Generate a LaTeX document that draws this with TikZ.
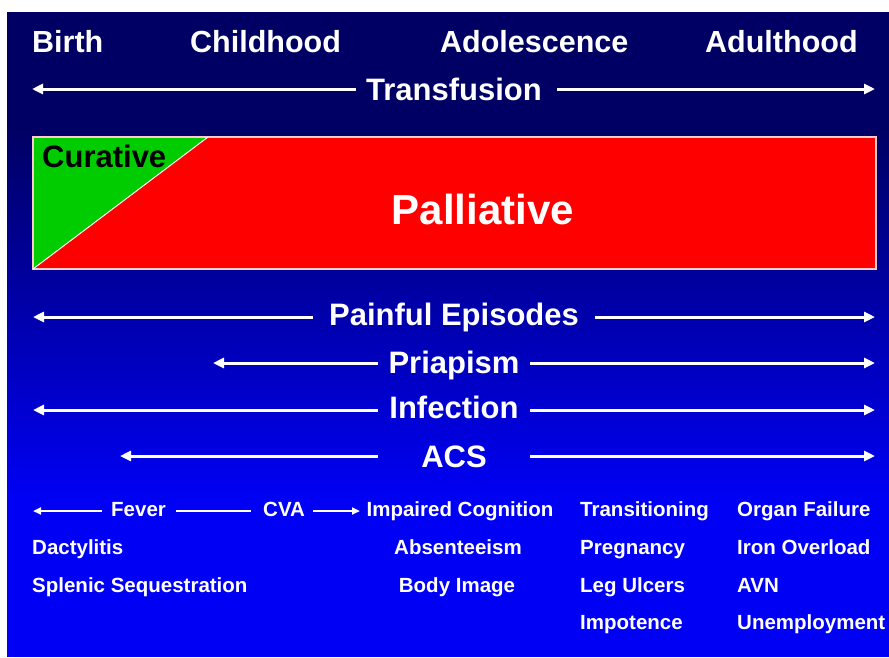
\documentclass[tikz,border=0pt]{standalone}
\usepackage{fontspec}
\setmainfont{Liberation Sans}
\usetikzlibrary{arrows.meta}
\definecolor{navybg}{RGB}{0,0,100}
\definecolor{bluebg}{RGB}{0,0,245}
\definecolor{curgreen}{RGB}{0,204,0}
\definecolor{palred}{RGB}{255,0,0}
\begin{document}
\begin{tikzpicture}[x=1pt,y=-1pt,
  lbl/.style={text=white,font=\bfseries\fontsize{31}{36}\selectfont,inner sep=0pt},
  hdr/.style={text=white,font=\bfseries\fontsize{30.5}{36}\selectfont,inner sep=0pt},
  sm/.style={text=white,font=\bfseries\fontsize{20.5}{24}\selectfont,inner sep=0pt},
  bigarr/.style={draw=white,line width=3pt,-{Triangle[length=11pt,width=10pt]}},
  smarr/.style={draw=white,line width=2pt,-{Triangle[length=8pt,width=7pt]}},
  smline/.style={draw=white,line width=2pt}]
\useasboundingbox (0,0) rectangle (889,657);
% background
\fill[white] (0,0) rectangle (889,657);
\fill[navybg] (7,12) rectangle (889,131);
\shade[top color=navybg,bottom color=bluebg] (7,130) rectangle (889,501);
\fill[bluebg] (7,500) rectangle (889,657);
% header
\node[hdr,anchor=base west] (birth) at (32,52) {Birth};
\node[hdr,anchor=base west] (child) at (190,52) {Childhood};
\node[hdr,anchor=base west] (adol) at (440,52) {Adolescence};
\node[hdr,anchor=base west] (adult) at (705,52) {Adulthood};
% transfusion
\node[lbl,anchor=base] (tf) at (454,100) {Transfusion};
\coordinate (tfA) at (356,89); \coordinate (tfL) at (32,89);
\coordinate (tfB) at (557,89); \coordinate (tfR) at (875,89);
\draw[bigarr] (tfA) -- (tfL);
\draw[bigarr] (tfB) -- (tfR);
% curative / palliative box
\fill[palred] (33,137) rectangle (876,269);
\fill[curgreen] (33,137) -- (208,137) -- (33,269) -- cycle;
\draw[white!80!red,line width=1.5pt] (33,137) rectangle (876,269);
\draw[white,line width=1pt] (208,137) -- (33,269);
\node[font=\bfseries\fontsize{31}{36}\selectfont,text=black,inner sep=0pt,anchor=base west] (cur) at (42,167) {Curative};
\node[font=\bfseries\fontsize{42}{48}\selectfont,text=white,inner sep=0pt,anchor=base] (pal) at (483,224) {Palliative};
% painful episodes
\node[lbl,anchor=base] (pe) at (454,325) {Painful Episodes};
\coordinate (peA) at (313,317); \coordinate (peL) at (33,317);
\coordinate (peB) at (595,317); \coordinate (peR) at (875,317);
\draw[bigarr] (peA) -- (peL);
\draw[bigarr] (peB) -- (peR);
% priapism
\node[lbl,anchor=base] (pr) at (454,373) {Priapism};
\coordinate (prA) at (378,363); \coordinate (prL) at (213,363);
\coordinate (prB) at (530,363); \coordinate (prR) at (875,363);
\draw[bigarr] (prA) -- (prL);
\draw[bigarr] (prB) -- (prR);
% infection
\node[lbl,anchor=base] (inf) at (454,418) {Infection};
\coordinate (infA) at (378,410); \coordinate (infL) at (33,410);
\coordinate (infB) at (530,410); \coordinate (infR) at (875,410);
\draw[bigarr] (infA) -- (infL);
\draw[bigarr] (infB) -- (infR);
% ACS
\node[lbl,anchor=base] (acs) at (454,467) {ACS};
\coordinate (acsA) at (378,456); \coordinate (acsL) at (120,456);
\coordinate (acsB) at (530,456); \coordinate (acsR) at (875,456);
\draw[bigarr] (acsA) -- (acsL);
\draw[bigarr] (acsB) -- (acsR);
% bottom row 1
\node[sm,anchor=base west] (fever) at (111,516) {Fever};
\node[sm,anchor=base west] (cva) at (263,516) {CVA};
\node[sm,anchor=base] (cog) at (460,516) {Impaired Cognition};
\coordinate (fvA) at (102,511); \coordinate (fvL) at (33,511);
\coordinate (fvB) at (176,511); \coordinate (cvA) at (251,511);
\coordinate (cvB) at (313,511); \coordinate (cvR) at (360,511);
\draw[smarr] (fvA) -- (fvL);
\draw[smline] (fvB) -- (cvA);
\draw[smarr] (cvB) -- (cvR);
% column 1
\node[sm,anchor=base west] (dac) at (32,554) {Dactylitis};
\node[sm,anchor=base west] (spl) at (32,592) {Splenic Sequestration};
% column 3
\node[sm,anchor=base] (abs) at (458,554) {Absenteeism};
\node[sm,anchor=base] (body) at (457,592) {Body Image};
% column 4
\node[sm,anchor=base west] (trans) at (580,516) {Transitioning};
\node[sm,anchor=base west] (preg) at (580,554) {Pregnancy};
\node[sm,anchor=base west] (leg) at (580,592) {Leg Ulcers};
\node[sm,anchor=base west] (imp) at (580,629) {Impotence};
% column 5
\node[sm,anchor=base west] (organ) at (737,516) {Organ Failure};
\node[sm,anchor=base west] (iron) at (737,554) {Iron Overload};
\node[sm,anchor=base west] (avn) at (737,592) {AVN};
\node[sm,anchor=base west] (unemp) at (737,629) {Unemployment};
\end{tikzpicture}
\end{document}
